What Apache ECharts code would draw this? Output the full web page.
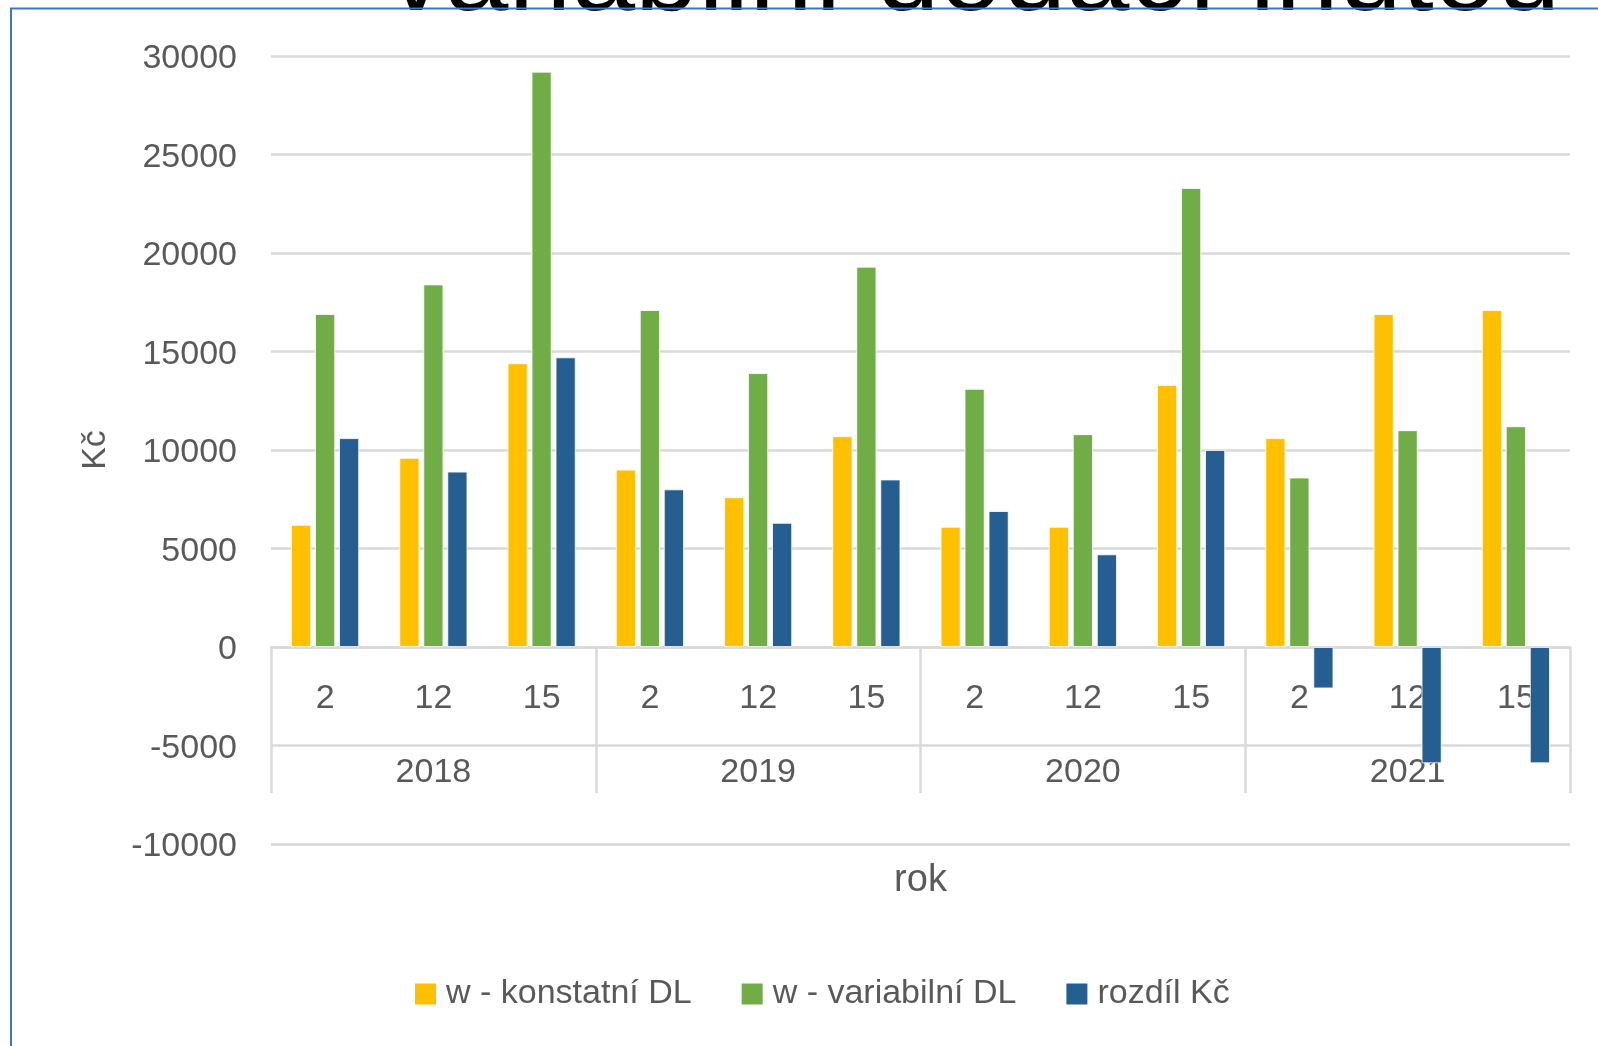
<!DOCTYPE html>
<html>
<head>
<meta charset="utf-8">
<script src="https://cdn.jsdelivr.net/npm/echarts@6/dist/echarts.min.js"></script>
<style>
html,body{margin:0;padding:0;background:#fff;}
#chart{width:1598px;height:1046px;}
</style>
</head>
<body>
<div id="chart"></div>
<script>
const days = ['2','12','15','2','12','15','2','12','15','2','12','15'];
const years = ['2018','2019','2020','2021'];
const konstantni = [6200, 9600, 14400, 9000, 7600, 10700, 6100, 6100, 13300, 10600, 16900, 17100];
const variabilni = [16900, 18400, 29200, 17100, 13900, 19300, 13100, 10800, 23300, 8600, 11000, 11200];
const rozdil = [10600, 8900, 14700, 8000, 6300, 8500, 6900, 4700, 10000, -2100, -5900, -5900];
const seriesNames = ['w - konstatní DL', 'w - variabilní DL', 'rozdíl Kč'];
const yTicks = [-10000, 30000, 5000];

const FONT = 'Liberation Sans';
const TXT = '#595959';
const GRID = '#d9d9d9';
const ZERO_OFFSET = -197; // axis sits on the 0 line (grid bottom is at -10000)

const chart = echarts.init(document.getElementById('chart'));
chart.setOption({
  animation: false,
  backgroundColor: '#ffffff',
  textStyle: { fontFamily: FONT },
  graphic: [
    { type: 'text', x: 388, y: -21, z: 10,
      style: { text: 'variabilní dodací lhůtou', fontSize: 114, fontFamily: FONT, fill: '#000000', verticalAlign: 'middle', align: 'left' } },
    { type: 'rect', shape: { x: 11, y: 8.5, width: 1700, height: 1200 }, z: 11,
      style: { fill: 'none', stroke: '#4472C4', lineWidth: 2 } }
  ],
  grid: { left: 271, right: 28, top: 56, bottom: 202 },
  legend: {
    left: 410, top: 972, itemWidth: 21, itemHeight: 21, itemGap: 50,
    icon: 'rect',
    itemStyle: { borderWidth: 0 },
    textStyle: { fontSize: 34, color: TXT, fontFamily: FONT, padding: [0, 0, 0, 5] },
    data: seriesNames
  },
  xAxis: [
    {
      type: 'category', data: days, position: 'bottom', offset: ZERO_OFFSET,
      axisLine: { onZero: false, lineStyle: { color: GRID, width: 2.5 } },
      axisTick: { show: false },
      axisLabel: { margin: 35, fontSize: 34, color: TXT, fontFamily: FONT, interval: 0 },
      name: 'rok', nameLocation: 'middle', nameGap: 215,
      nameTextStyle: { fontSize: 38, color: TXT, fontFamily: FONT }
    },
    {
      type: 'category', data: years, position: 'bottom', offset: ZERO_OFFSET,
      axisLine: { show: false, onZero: false },
      axisTick: { show: true, length: 146, interval: 0, lineStyle: { color: GRID, width: 2.5 } },
      axisLabel: { margin: 109, fontSize: 34, color: TXT, fontFamily: FONT, interval: 0 }
    }
  ],
  yAxis: {
    type: 'value', min: yTicks[0], max: yTicks[1], interval: yTicks[2],
    axisLine: { show: false }, axisTick: { show: false },
    axisLabel: { margin: 34, fontSize: 34, color: TXT, fontFamily: FONT, verticalAlign: 'top', lineHeight: 6, formatter: v => String(v) },
    splitLine: { lineStyle: { color: GRID, width: 2.5 } },
    name: 'Kč', nameLocation: 'middle', nameGap: 158,
    nameTextStyle: { fontSize: 34, color: TXT, fontFamily: FONT }
  },
  series: [
    { name: seriesNames[0], type: 'bar', data: konstantni, barWidth: 20, barGap: '20%',
      itemStyle: { color: '#FFC000', borderColor: '#fff', borderWidth: 0.8 } },
    { name: seriesNames[1], type: 'bar', data: variabilni, barWidth: 20, barGap: '20%',
      itemStyle: { color: '#70AD47', borderColor: '#fff', borderWidth: 0.8 } },
    { name: seriesNames[2], type: 'bar', data: rozdil, barWidth: 20, barGap: '20%',
      itemStyle: { color: '#255E91', borderColor: '#fff', borderWidth: 0.8 } }
  ]
});
</script>
</body>
</html>
